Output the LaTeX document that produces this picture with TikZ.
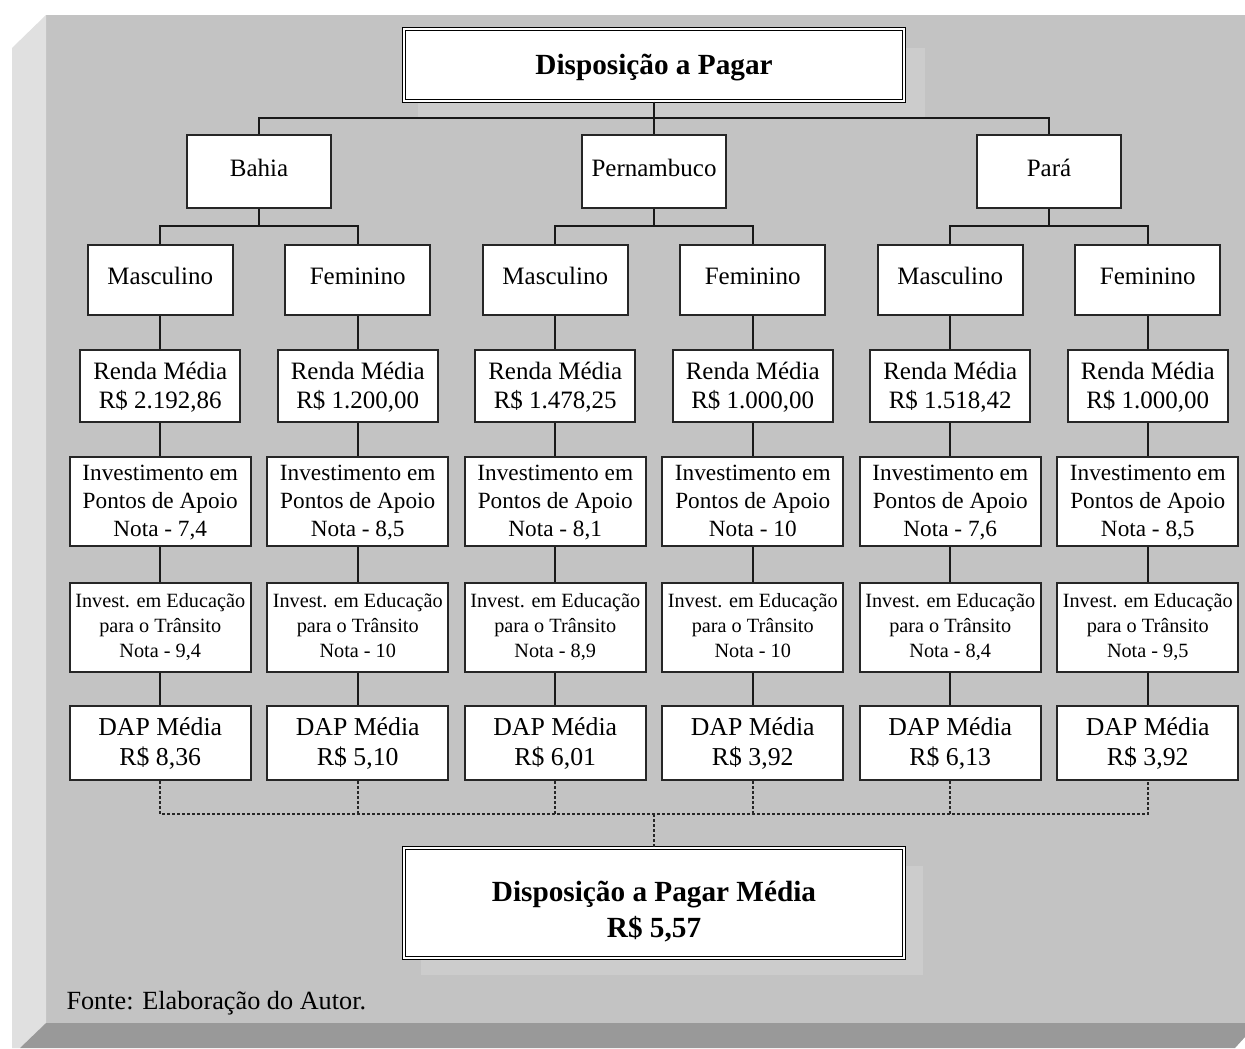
\documentclass[tikz,border=0pt]{standalone}
\usepackage{fontspec}
\setmainfont{Liberation Serif}
\usepackage{tikz}
\usetikzlibrary{positioning}

\definecolor{painel}{HTML}{C3C3C3}
\definecolor{bisel}{HTML}{E0E0E0}
\definecolor{base}{HTML}{999999}
\definecolor{brilho}{HTML}{CCCCCC}

\begin{document}
\begin{tikzpicture}[x=0.4pt, y=-0.4pt, on grid,
    every node/.style={inner sep=0pt, align=center},
    caixa/.style={draw=black!85, line width=0.8pt, fill=white},
    topo/.style={draw=black, fill=white, double=white, line width=0.6pt, double distance=0.6pt,
        minimum width=200pt, minimum height=28.8pt, font=\fontsize{11.7}{14.4}\selectfont\bfseries},
    uf/.style={caixa, minimum width=57.6pt, minimum height=29.2pt, font=\fontsize{10}{12}\selectfont,
        text height=7.6pt, text depth=3.6pt},
    sexo/.style={caixa, minimum width=58pt, minimum height=28pt, font=\fontsize{10}{12}\selectfont,
        text height=6.8pt, text depth=3.6pt},
    renda/.style={caixa, minimum width=64pt, minimum height=28.8pt, font=\fontsize{10}{11.6}\selectfont,
        text depth=0.3pt},
    nota/.style={caixa, minimum width=72.4pt, minimum height=35.6pt, font=\fontsize{9.3}{11.2}\selectfont,
        text depth=0pt},
    educ/.style={caixa, minimum width=72.4pt, minimum height=35.6pt, font=\fontsize{8.1}{10}\selectfont,
        text depth=1.4pt},
    media/.style={caixa, minimum width=72.4pt, minimum height=29.6pt, font=\fontsize{10.3}{12}\selectfont,
        text depth=1.2pt},
    liga/.style={draw=black!90, line width=0.8pt},
    pontos/.style={draw=black!85, line width=0.7pt, dash pattern=on 1.2pt off 0.8pt}]

    % fundo
    \useasboundingbox (0,0) rectangle (1245,1048);
    \fill[white] (0,0) rectangle (1245,1048);
    \fill[painel] (46,15) rectangle (1245,1023);
    \fill[bisel] (12,48) -- (46,15) -- (46,1023) -- (20,1048) -- (12,1048) -- cycle;
    \fill[base] (20,1048) -- (46,1023) -- (1245,1023) -- (1245,1037) -- (1235,1048) -- cycle;
    \fill[brilho] (418,48) rectangle (925,118);
    \fill[brilho] (421,866) rectangle (923,975);

    \node[topo] (dap) at (654,65) {\rule{0pt}{10pt}Disposição a Pagar};
    \node[uf] (pe) [below=42.4pt of dap] {Pernambuco};
    \node[uf] (ba) [left=158pt of pe] {Bahia};
    \node[uf] (pa) [right=158pt of pe] {Pará};

    \node[sexo] (bam) [below left=43.6pt and 39.5pt of ba] {Masculino};
    \node[sexo] (baf) [below right=43.6pt and 39.5pt of ba] {Feminino};
    \node[sexo] (pem) [below left=43.6pt and 39.5pt of pe] {Masculino};
    \node[sexo] (pef) [below right=43.6pt and 39.5pt of pe] {Feminino};
    \node[sexo] (pam) [below left=43.6pt and 39.5pt of pa] {Masculino};
    \node[sexo] (paf) [below right=43.6pt and 39.5pt of pa] {Feminino};

    \node[renda] (rbam) [below=42.4pt of bam] {Renda Média\\R\$ 2.192,86};
    \node[renda] (rbaf) [below=42.4pt of baf] {Renda Média\\R\$ 1.200,00};
    \node[renda] (rpem) [below=42.4pt of pem] {Renda Média\\R\$ 1.478,25};
    \node[renda] (rpef) [below=42.4pt of pef] {Renda Média\\R\$ 1.000,00};
    \node[renda] (rpam) [below=42.4pt of pam] {Renda Média\\R\$ 1.518,42};
    \node[renda] (rpaf) [below=42.4pt of paf] {Renda Média\\R\$ 1.000,00};

    \node[nota] (ibam) [below=46pt of rbam] {Investimento em\\Pontos de Apoio\\Nota - 7,4};
    \node[nota] (ibaf) [below=46pt of rbaf] {Investimento em\\Pontos de Apoio\\Nota - 8,5};
    \node[nota] (ipem) [below=46pt of rpem] {Investimento em\\Pontos de Apoio\\Nota - 8,1};
    \node[nota] (ipef) [below=46pt of rpef] {Investimento em\\Pontos de Apoio\\Nota - 10};
    \node[nota] (ipam) [below=46pt of rpam] {Investimento em\\Pontos de Apoio\\Nota - 7,6};
    \node[nota] (ipaf) [below=46pt of rpaf] {Investimento em\\Pontos de Apoio\\Nota - 8,5};

    \node[educ] (ebam) [below=50.4pt of ibam] {Invest. em Educação\\para o Trânsito\\Nota - 9,4};
    \node[educ] (ebaf) [below=50.4pt of ibaf] {Invest. em Educação\\para o Trânsito\\Nota - 10};
    \node[educ] (epem) [below=50.4pt of ipem] {Invest. em Educação\\para o Trânsito\\Nota - 8,9};
    \node[educ] (epef) [below=50.4pt of ipef] {Invest. em Educação\\para o Trânsito\\Nota - 10};
    \node[educ] (epam) [below=50.4pt of ipam] {Invest. em Educação\\para o Trânsito\\Nota - 8,4};
    \node[educ] (epaf) [below=50.4pt of ipaf] {Invest. em Educação\\para o Trânsito\\Nota - 9,5};

    \node[media] (dbam) [below=46.4pt of ebam] {DAP Média\\R\$ 8,36};
    \node[media] (dbaf) [below=46.4pt of ebaf] {DAP Média\\R\$ 5,10};
    \node[media] (dpem) [below=46.4pt of epem] {DAP Média\\R\$ 6,01};
    \node[media] (dpef) [below=46.4pt of epef] {DAP Média\\R\$ 3,92};
    \node[media] (dpam) [below=46.4pt of epam] {DAP Média\\R\$ 6,13};
    \node[media] (dpaf) [below=46.4pt of epaf] {DAP Média\\R\$ 3,92};

    \node[topo, minimum height=44pt] (dapm) at (654,903)
        {\rule{0pt}{15pt}Disposição a Pagar Média\\R\$ 5,57};
    \path (dapm.north) ++(0,-33) coordinate (j);
    \node[anchor=west, font=\fontsize{10.5}{12}\selectfont] (fonte) at (66,1003) {Fonte: Elaboração do Autor.};

    \draw[liga] (dap.south) -- ++(0,16) -| (ba.north);
    \draw[liga] (dap.south) -- ++(0,16) -| (pa.north);
    \draw[liga] (dap.south) -- (pe.north);
    \draw[liga] (ba.south) -- ++(0,17) -| (bam.north);
    \draw[liga] (ba.south) -- ++(0,17) -| (baf.north);
    \draw[liga] (pe.south) -- ++(0,17) -| (pem.north);
    \draw[liga] (pe.south) -- ++(0,17) -| (pef.north);
    \draw[liga] (pa.south) -- ++(0,17) -| (pam.north);
    \draw[liga] (pa.south) -- ++(0,17) -| (paf.north);

    \path[liga]
    (bam) edge (rbam) (rbam) edge (ibam) (ibam) edge (ebam) (ebam) edge (dbam)
    (baf) edge (rbaf) (rbaf) edge (ibaf) (ibaf) edge (ebaf) (ebaf) edge (dbaf)
    (pem) edge (rpem) (rpem) edge (ipem) (ipem) edge (epem) (epem) edge (dpem)
    (pef) edge (rpef) (rpef) edge (ipef) (ipef) edge (epef) (epef) edge (dpef)
    (pam) edge (rpam) (rpam) edge (ipam) (ipam) edge (epam) (epam) edge (dpam)
    (paf) edge (rpaf) (rpaf) edge (ipaf) (ipaf) edge (epaf) (epaf) edge (dpaf);

    \draw[pontos] (dbam.south) |- (j) -| (dpaf.south);
    \path[pontos]
    (dbaf.south) edge (dbaf.south |- j)
    (dpem.south) edge (dpem.south |- j)
    (dpef.south) edge (dpef.south |- j)
    (dpam.south) edge (dpam.south |- j)
    (j) edge (dapm.north);
\end{tikzpicture}
\end{document}
